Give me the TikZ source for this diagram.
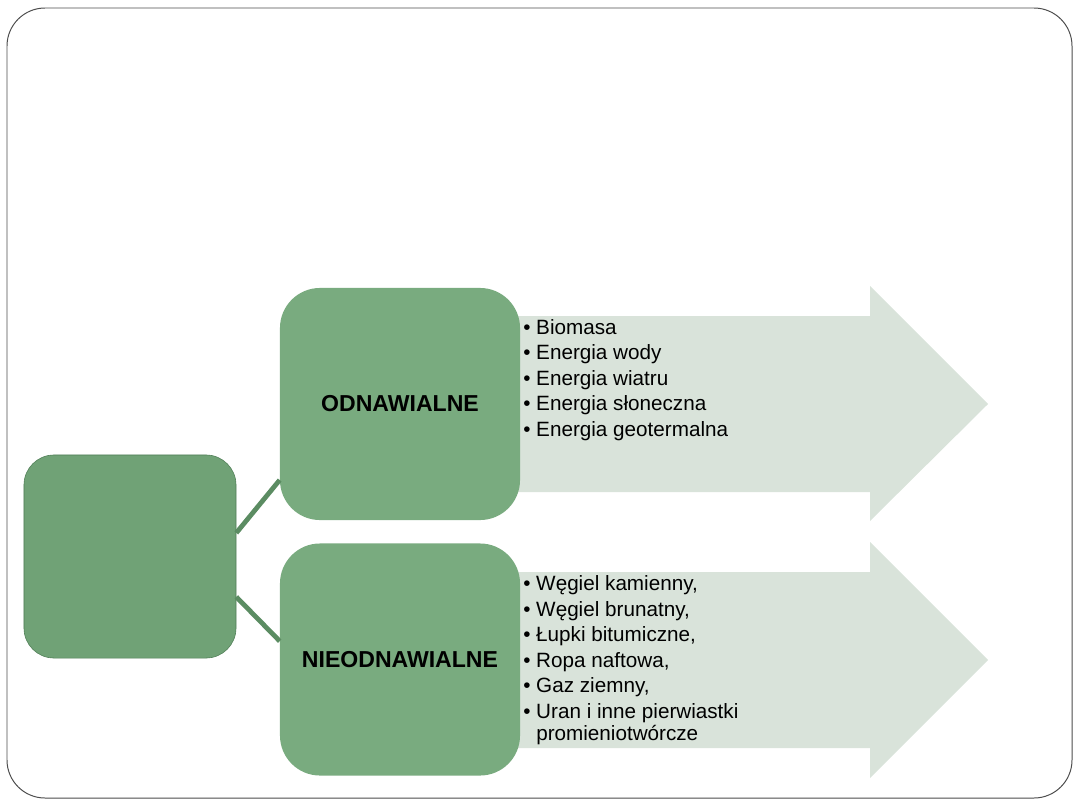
\documentclass[tikz,border=0pt]{standalone}
\usepackage{fontspec}
\setmainfont{Liberation Sans}
\usetikzlibrary{positioning}

\definecolor{rootgreen}{HTML}{70A276}
\definecolor{rootedge}{HTML}{4E7D55}
\definecolor{boxgreen}{HTML}{79AB7F}
\definecolor{arrowgrey}{HTML}{D9E3DA}
\definecolor{linkgreen}{HTML}{5B8C62}

\begin{document}
\begin{tikzpicture}[x=0.025cm,y=-0.025cm]

\tikzset{rootbox/.style = {shape=rectangle,rounded corners=0.75cm,draw=rootedge,fill=rootgreen,minimum width=5.3cm,minimum height=5.075cm}}
\tikzset{sortbox/.style = {shape=rectangle,rounded corners=1cm,fill=boxgreen,minimum width=6cm,minimum height=5.8cm,font=\fontsize{16.4}{19}\selectfont\bfseries}}
\tikzset{arrowbody/.style = {fill=arrowgrey}}
\tikzset{link/.style = {draw=linkgreen,line width=3.4pt}}
\tikzset{itemlist/.style = {anchor=north west,inner sep=0pt,align=left,font=\fontsize{14.7}{16}\selectfont}}

\useasboundingbox (0,0) rectangle (1080,810);

% frame
\draw[gray!60!black,line width=0.7pt,rounded corners=0.95cm]
  (7,8) rectangle (1072,798);

% arrows
\fill[arrowbody] (500,316) -- (870,316) -- (870,286) -- (988,404)
  -- (870,521) -- (870,492) -- (500,492) -- cycle;
\fill[arrowbody] (500,572) -- (870,572) -- (870,542) -- (988,660)
  -- (870,778) -- (870,748) -- (500,748) -- cycle;

% vertices
\node[rootbox] (root) at (130,556.5) {};
\node[sortbox] (ren) at (400,404) {ODNAWIALNE};
\node[sortbox] (nren) at (400,659.5) {NIEODNAWIALNE};

\node[itemlist] (renlist) at (523,319) {%
  \textbullet\ Biomasa\\[2.1pt]
  \textbullet\ Energia wody\\[2.1pt]
  \textbullet\ Energia wiatru\\[2.1pt]
  \textbullet\ Energia słoneczna\\[2.1pt]
  \textbullet\ Energia geotermalna};
\node[itemlist] (nrenlist) at (523,575.5) {%
  \textbullet\ Węgiel kamienny,\\[2.1pt]
  \textbullet\ Węgiel brunatny,\\[2.1pt]
  \textbullet\ Łupki bitumiczne,\\[2.1pt]
  \textbullet\ Ropa naftowa,\\[2.1pt]
  \textbullet\ Gaz ziemny,\\[2.1pt]
  \textbullet\ Uran i inne pierwiastki\\
  \phantom{\textbullet\ }promieniotwórcze};

% edges
\draw[link] ([yshift=0.59cm]root.east) -- ([yshift=-1.9cm]ren.west);
\draw[link] ([yshift=-1.01cm]root.east) -- ([yshift=0.46cm]nren.west);

\end{tikzpicture}
\end{document}
